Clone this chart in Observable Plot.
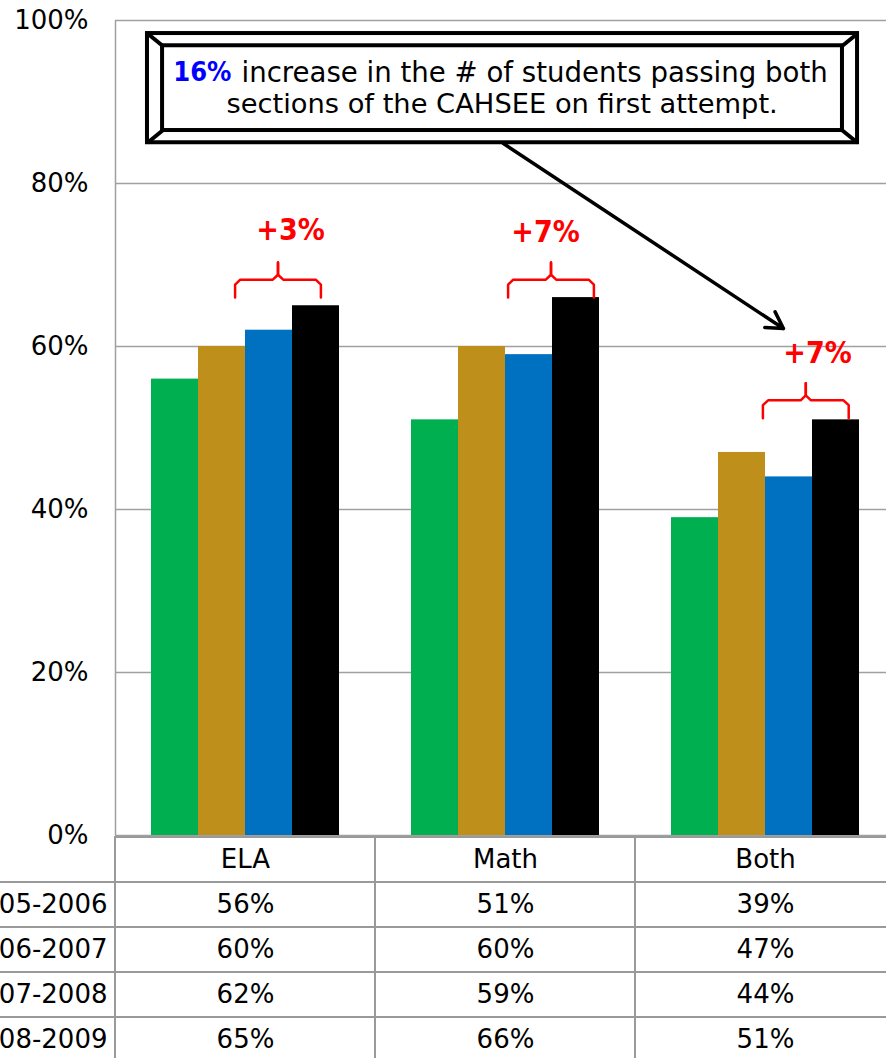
<!DOCTYPE html>
<html>
<head>
<meta charset="utf-8">
<script src="https://cdn.jsdelivr.net/npm/d3@7"></script>
<script src="https://cdn.jsdelivr.net/npm/@observablehq/plot@0.6"></script>
<style>
  html, body { margin: 0; padding: 0; background: #fff; overflow: hidden; }
  #wrap { position: relative; width: 886px; height: 1058px; overflow: hidden; }
  #wrap svg { position: absolute; left: 0; top: 0; }
</style>
</head>
<body>
<div id="wrap"></div>
<script>
// ---- data ----
const categories = ["ELA", "Math", "Both"];
const years = ["2005-2006", "2006-2007", "2007-2008", "2008-2009"];
const colors = ["#00B050", "#BE8F1A", "#0070C0", "#000000"];
const v0506 = [56, 51, 39];
const v0607 = [60, 60, 47];
const v0708 = [62, 59, 44];
const v0809 = [65, 66, 51];
const yTicks = [0, 20, 40, 60, 80, 100];

// ---- annotations (x in category units, y in %) ----
const braceLabels = ["+3%", "+7%", "+7%"];
const braceLeft = [0.46, 1.51, 2.49];
const braceRight = [0.79, 1.84, 2.82];
const braceBase = [66.0, 66.0, 51.2];
const braceLabelX = [0.673, 1.654, 2.70];
const braceLabelY = [74.2, 74.0, 59.1];
const calloutOuter = [0.123, 2.854, 85.0, 98.4];   // x1, x2, y1, y2
const calloutInner = [0.181, 2.796, 86.5, 96.9];
const calloutLine1Bold = "16%";
const calloutLine1 = "increase in the # of students passing both";
const calloutLine2 = "sections of the CAHSEE on first attempt.";
const arrowFrom = [1.492, 84.9];
const arrowTo = [2.569, 62.2];

const series = [v0506, v0607, v0708, v0809];
const rows = years.flatMap((yr, j) => categories.map((c, i) => ({category: c, year: yr, value: series[j][i]})));

const font = "DejaVu Sans";
const grid = "#a0a0a0";

// ---- chart layer ----
const chart = Plot.plot({
  width: 895, height: 1058,
  marginTop: 20, marginBottom: 223, marginLeft: 115, marginRight: 0,
  style: {fontFamily: font, fontSize: "26px", color: "black", background: "white", maxWidth: "none"},
  fx: {domain: categories, padding: 0, axis: null},
  x: {domain: years, paddingInner: 0, paddingOuter: 35 / 47.5, axis: null},
  y: {domain: [0, 100]},
  color: {domain: years, range: colors},
  marks: [
    Plot.gridY(yTicks, {stroke: grid, strokeOpacity: 1, strokeWidth: 1.5}),
    Plot.barY(rows, {fx: "category", x: "year", y: "value", fill: "year"}),
    Plot.axisY(yTicks, {tickSize: 0, tickPadding: 27, tickFormat: d => d + "%", fill: "black", label: null})
  ]
});

// ---- annotation layer ----
const bracePaths = [];
braceLabels.forEach((lab, b) => {
  const L = braceLeft[b], R = braceRight[b], C = (L + R) / 2;
  const base = braceBase[b], top = base + 2.2, notch = top + 2.1;
  const rx = 0.02, ry = 0.6;
  bracePaths.push(
    {id: b + "L", x: L, y: base}, {id: b + "L", x: L, y: top - ry}, {id: b + "L", x: L + rx, y: top},
    {id: b + "L", x: C - rx, y: top}, {id: b + "L", x: C, y: top + ry}, {id: b + "L", x: C, y: notch},
    {id: b + "R", x: R, y: base}, {id: b + "R", x: R, y: top - ry}, {id: b + "R", x: R - rx, y: top},
    {id: b + "R", x: C + rx, y: top}, {id: b + "R", x: C, y: top + ry}, {id: b + "R", x: C, y: notch}
  );
});
const braceText = braceLabels.map((t, b) => ({t, x: braceLabelX[b], y: braceLabelY[b]}));
const [ox1, ox2, oy1, oy2] = calloutOuter;
const [ix1, ix2, iy1, iy2] = calloutInner;
const bevels = [
  {x1: ox1, y1: oy1, x2: ix1, y2: iy1}, {x1: ox1, y1: oy2, x2: ix1, y2: iy2},
  {x1: ox2, y1: oy1, x2: ix2, y2: iy1}, {x1: ox2, y1: oy2, x2: ix2, y2: iy2}
];

const overlay = Plot.plot({
  width: 886, height: 1058,
  marginTop: 20, marginBottom: 223, marginLeft: 115, marginRight: 0,
  style: {fontFamily: font, fontSize: "26px", color: "black", background: "transparent"},
  x: {domain: [0, 3], range: [115, 895], axis: null},
  y: {domain: [0, 100], axis: null},
  marks: [
    Plot.ruleX([0], {y1: 0, y2: 100, stroke: grid, strokeWidth: 1.5}),
    Plot.line(bracePaths, {x: "x", y: "y", z: "id", stroke: "#FF0000", strokeWidth: 2.5, strokeLinejoin: "round"}),
    Plot.text(braceText, {x: "x", y: "y", text: "t", fill: "#FF0000", fontWeight: "bold", fontSize: 30, fontFamily: "DejaVu Sans Condensed"}),
    Plot.rect([0], {x1: ox1, x2: ox2, y1: oy1, y2: oy2, fill: "white", stroke: "black", strokeWidth: 4}),
    Plot.rect([0], {x1: ix1, x2: ix2, y1: iy1, y2: iy2, fill: "none", stroke: "black", strokeWidth: 4}),
    Plot.link(bevels, {x1: "x1", y1: "y1", x2: "x2", y2: "y2", stroke: "black", strokeWidth: 4}),
    Plot.text([calloutLine1Bold], {x: 0.446, y: 93.6, text: d => d, textAnchor: "end", fill: "#0000FF", fontWeight: "bold", fontSize: 27, fontFamily: "DejaVu Sans Condensed"}),
    Plot.text([calloutLine1], {x: 0.4846, y: 93.6, text: d => d, textAnchor: "start", fill: "black", fontSize: 27.6}),
    Plot.text([calloutLine2], {x: 1.487, y: 89.7, text: d => d, fill: "black", fontSize: 27.3}),
    Plot.arrow([0], {x1: arrowFrom[0], y1: arrowFrom[1], x2: arrowTo[0], y2: arrowTo[1], stroke: "black", strokeWidth: 3.5})
  ]
});

// ---- data table layer ----
const labelCol = "label", headerRow = "header";
const cells = [];
[labelCol, ...categories].forEach(c => [headerRow, ...years].forEach(r => {
  if (!(c === labelCol && r === headerRow)) cells.push({c, r});
}));

const table = Plot.plot({
  width: 886, height: 1058,
  marginTop: 835, marginBottom: 0, marginLeft: 0, marginRight: 0,
  style: {fontFamily: font, fontSize: "26px", color: "black", background: "transparent"},
  x: {domain: [labelCol, ...categories], range: [-145, 895], padding: 0, axis: null},
  y: {domain: [headerRow, ...years], range: [835, 1063], padding: 0, axis: null},
  marks: [
    Plot.cell(cells, {x: "c", y: "r", fill: "none", stroke: "#9a9a9a", strokeWidth: 2}),
    Plot.text(categories, {x: d => d, y: () => headerRow, text: d => d, fill: "black"}),
    Plot.text(rows, {x: "category", y: "year", text: d => d.value + "%", fill: "black"}),
    Plot.text(years, {x: () => labelCol, y: d => d, text: d => d, textAnchor: "end", dx: 122, fill: "black"})
  ]
});

const wrap = document.getElementById("wrap");
wrap.append(chart, overlay, table);
</script>
</body>
</html>
